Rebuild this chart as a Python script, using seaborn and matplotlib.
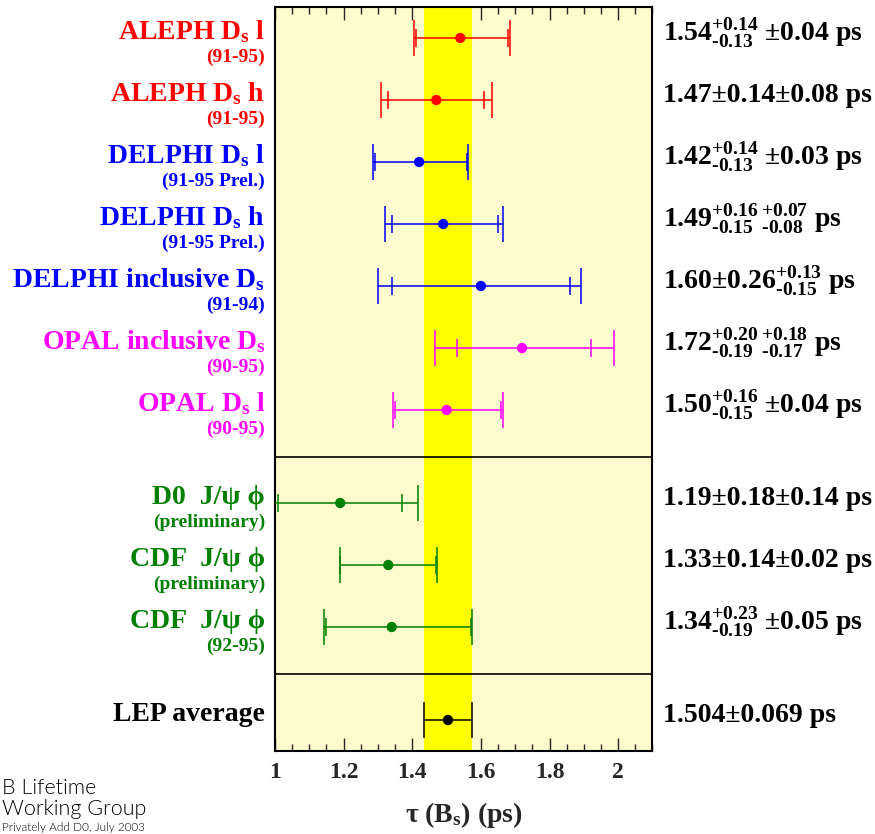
import numpy as np
import pandas as pd
import matplotlib
matplotlib.use("Agg")
import matplotlib.pyplot as plt
import matplotlib.transforms as mtransforms
from matplotlib.ticker import MultipleLocator
import seaborn as sns

# Bs lifetime measurements, top to bottom
labels = ["ALEPH D$_s$ l", "ALEPH D$_s$ h", "DELPHI D$_s$ l", "DELPHI D$_s$ h",
          "DELPHI inclusive D$_s$", "OPAL inclusive D$_s$", "OPAL D$_s$ l",
          "D0  J/\u03c8 \u03d5", "CDF  J/\u03c8 \u03d5", "CDF  J/\u03c8 \u03d5", "LEP average"]
periods = ["(91-95)", "(91-95)", "(91-95 Prel.)", "(91-95 Prel.)", "(91-94)",
           "(90-95)", "(90-95)", "(preliminary)", "(preliminary)", "(92-95)", ""]
tau = [1.54, 1.47, 1.42, 1.49, 1.60, 1.72, 1.50, 1.19, 1.33, 1.34, 1.504]
stat_up = [0.14, 0.14, 0.14, 0.16, 0.26, 0.20, 0.16, 0.18, 0.14, 0.23, 0.069]
stat_dn = [0.13, 0.14, 0.13, 0.15, 0.26, 0.19, 0.15, 0.18, 0.14, 0.19, 0.069]
syst_up = [0.04, 0.08, 0.03, 0.07, 0.13, 0.18, 0.04, 0.14, 0.02, 0.05, 0.0]
syst_dn = [0.04, 0.08, 0.03, 0.08, 0.15, 0.17, 0.04, 0.14, 0.02, 0.05, 0.0]
results = [r"$1.54^{+0.14}_{-0.13}$ ±0.04 ps",
           "1.47±0.14±0.08 ps",
           r"$1.42^{+0.14}_{-0.13}$ ±0.03 ps",
           r"$1.49^{+0.16}_{-0.15}\,{}^{+0.07}_{-0.08}$ ps",
           r"1.60±0.26$^{+0.13}_{-0.15}$ ps",
           r"$1.72^{+0.20}_{-0.19}\,{}^{+0.18}_{-0.17}$ ps",
           r"$1.50^{+0.16}_{-0.15}$ ±0.04 ps",
           "1.19±0.18±0.14 ps",
           "1.33±0.14±0.02 ps",
           r"$1.34^{+0.23}_{-0.19}$ ±0.05 ps",
           "1.504±0.069 ps"]
groups = ["ALEPH", "ALEPH", "DELPHI", "DELPHI", "DELPHI", "OPAL", "OPAL",
          "D0", "CDF", "CDF", "LEP"]
group_colors = {"ALEPH": "#ff0000", "DELPHI": "#0000ff", "OPAL": "#ff00ff",
                "D0": "#007f00", "CDF": "#007f00", "LEP": "#000000"}

# layout of rows (gaps between blocks)
row_pos = [0, 1, 2, 3, 4, 5, 6, 7.5, 8.5, 9.5, 11]
separators = [6.75, 10.25]
lep_avg, lep_err = 1.504, 0.069

df = pd.DataFrame({"label": labels, "period": periods, "tau": tau,
                   "stat_up": stat_up, "stat_dn": stat_dn,
                   "syst_up": syst_up, "syst_dn": syst_dn,
                   "group": groups, "row": row_pos, "result": results})
df["tot_up"] = np.sqrt(df["stat_up"] ** 2 + df["syst_up"] ** 2)
df["tot_dn"] = np.sqrt(df["stat_dn"] ** 2 + df["syst_dn"] ** 2)

sns.set_style("white")
serif = ["Liberation Serif", "DejaVu Serif"]
plt.rcParams["font.family"] = serif
plt.rcParams["font.weight"] = "bold"
plt.rcParams["text.color"] = "black"
plt.rcParams["mathtext.fontset"] = "custom"
plt.rcParams["mathtext.rm"] = "Liberation Serif:bold"
plt.rcParams["mathtext.it"] = "Liberation Serif:bold"
plt.rcParams["mathtext.bf"] = "Liberation Serif:bold"

fig = plt.figure(figsize=(8.75, 8.34), dpi=100)
ax = fig.add_axes([0.3143, 0.0995, 0.4314, 0.8921])
ax.set_facecolor("#fcfbcd")

# LEP average band
ax.axvspan(lep_avg - lep_err, lep_avg + lep_err, color="#ffff00", lw=0, zorder=1)

for y in separators:
    ax.axhline(y, color="black", lw=1.2, zorder=2)

# error bars: outer caps = total error, inner caps = statistical
for _, r in df.iterrows():
    c = group_colors[r["group"]]
    lo, hi = r["tau"] - r["tot_dn"], r["tau"] + r["tot_up"]
    ax.hlines(r["row"], lo, hi, color=c, lw=1.1, zorder=3)
    ax.vlines([lo, hi], r["row"] - 0.29, r["row"] + 0.29, color=c, lw=1.1, zorder=3)
    if r["syst_up"] > 0:
        ax.vlines([r["tau"] - r["stat_dn"], r["tau"] + r["stat_up"]],
                  r["row"] - 0.145, r["row"] + 0.145, color=c, lw=1.1, zorder=3)

sns.scatterplot(data=df, x="tau", y="row", hue="group", palette=group_colors,
                s=55, edgecolor="none", legend=False, zorder=4, ax=ax)

ax.set_xlim(1.0, 2.1)
ax.set_ylim(11.5, -0.5)
ax.set_yticks([])
ax.xaxis.set_minor_locator(MultipleLocator(0.05))
ax.set_xticks([1, 1.2, 1.4, 1.6, 1.8, 2])
ax.set_xticklabels(["1", "1.2", "1.4", "1.6", "1.8", "2"])
ax.tick_params(axis="x", which="major", direction="in", top=True, bottom=True,
               length=9.5, width=1, labelsize=17, pad=8)
ax.tick_params(axis="x", which="minor", direction="in", top=True, bottom=True,
               length=5, width=1)
for s in ax.spines.values():
    s.set_linewidth(1.5)
    s.set_color("black")
ax.set_xlabel("\u03c4 (B$_s$) (ps)", fontsize=20, fontweight="bold", labelpad=12)
ax.set_ylabel("")

trans = mtransforms.blended_transform_factory(ax.transAxes, ax.transData)
for _, r in df.iterrows():
    c = group_colors[r["group"]]
    ax.text(-0.026, r["row"] + 0.02, r["label"], transform=trans, ha="right",
            va="baseline", fontsize=20, fontweight="bold", color=c)
    if r["period"]:
        ax.text(-0.026, r["row"] + 0.31, r["period"], transform=trans, ha="right",
                va="center", fontsize=14, fontweight="bold", color=c)
    # plain hyphens for the negative errors, as in the original
    ax.text(1.028, r["row"] - 0.07, r["result"].replace("-", "\u2010"), transform=trans,
            ha="left", va="center", fontsize=20, fontweight="bold", color="black")

sans = ["Lato", "DejaVu Sans"]
fig.text(0.002, 1 - 794 / 834, "B Lifetime", family=sans, fontweight=300,
         fontsize=15.5, color="black", ha="left", va="baseline")
fig.text(0.002, 1 - 815 / 834, "Working Group", family=sans, fontweight=300,
         fontsize=15.5, color="black", ha="left", va="baseline")
fig.text(0.002, 0.001, "Privately Add D0, July 2003", family=sans,
         fontweight=300, fontsize=8.5, color="black", ha="left", va="bottom")

fig.savefig("out.png", dpi=100)
